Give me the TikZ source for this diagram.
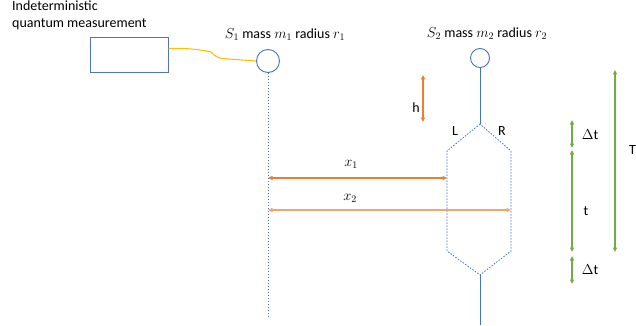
\documentclass[tikz,border=0pt]{standalone}
\usepackage{fontspec}
\setmainfont{Carlito}
\usetikzlibrary{arrows.meta}
\definecolor{lineblue}{HTML}{4472C4}
\definecolor{wireyellow}{HTML}{FFC000}
\definecolor{distorange}{HTML}{ED7D31}
\definecolor{distlight}{HTML}{F4A46E}
\definecolor{timegreen}{HTML}{70AD47}
\tikzset{
  ball/.style={draw=lineblue, circle, line width=0.9pt, inner sep=0pt},
  box/.style={draw=lineblue!80!gray, line width=1.0pt, minimum width=78pt, minimum height=35pt, inner sep=0pt},
  txt/.style={font=\fontsize{14}{17}\selectfont, inner sep=0pt, align=left},
  track/.style={draw=lineblue, line width=0.8pt},
  path/.style={draw=lineblue, line width=0.8pt, dash pattern=on 1.5pt off 1.5pt},
  dimarrow/.style={line width=1.2pt, arrows={Triangle[length=4.5pt,width=4pt]-Triangle[length=4.5pt,width=4pt]}}
}

\begin{document}
\begin{tikzpicture}[x=1pt, y=-1pt]
  \useasboundingbox (0,0) rectangle (636,326);

  % measurement apparatus and wire to S1
  \node[txt, anchor=north west] (meastext) at (12,1) {Indeterministic\\quantum measurement};
  \node[box] (meas) at (129,55.5) {};
  \node[ball, minimum size=23pt] (s1) at (268,61) {};
  \node[txt] (s1text) at (285,35) {$S_1$ mass $m_1$ radius $r_1$};
  \draw[wireyellow, line width=1.1pt] (meas.10) .. controls (190,48.5) .. (210,51.5)
    .. controls (213,53) and (214,57) .. (222,58.5) -- (s1.west);
  \coordinate (s1end) at (268,318);
  \draw[path] (s1.south) -- (s1end);

  % S2 and its two branches
  \node[ball, minimum size=19pt] (s2) at (480,58) {};
  \node[txt] (s2text) at (487,34) {$S_2$ mass $m_2$ radius $r_2$};
  \coordinate (split) at (480,124);
  \coordinate (upL) at (447,151);
  \coordinate (loL) at (447,251);
  \coordinate (join) at (480,275);
  \coordinate (loR) at (511,251);
  \coordinate (upR) at (511,151);
  \coordinate (s2end) at (480,325);
  \draw[track] (s2.south) -- (split);
  \draw[path] (split) -- (upL) -- (loL) -- (join) -- (loR) -- (upR) -- cycle;
  \draw[track] (join) -- (s2end);
  \node[txt] (lefttag) at (455,131) {L};
  \node[txt] (righttag) at (502,131) {R};

  % height
  \coordinate (htop) at (423,75);
  \coordinate (hbot) at (423,122);
  \draw[dimarrow, distorange] (htop) -- (hbot);
  \node[txt] (htext) at (416,108) {h};

  % distances
  \coordinate (x1a) at (268,178);
  \coordinate (x1b) at (447,178);
  \coordinate (x2a) at (268,210);
  \coordinate (x2b) at (511,210);
  \draw[dimarrow, distorange] (x1a) -- (x1b);
  \draw[dimarrow, distlight] (x2a) -- (x2b);
  \node[txt] (x1text) at (351,164) {$x_1$};
  \node[txt] (x2text) at (350,198) {$x_2$};

  % times
  \coordinate (ta) at (572,120);
  \coordinate (tb) at (572,148);
  \coordinate (tc) at (572,150);
  \coordinate (td) at (572,252);
  \coordinate (te) at (572,256);
  \coordinate (tf) at (572,284);
  \coordinate (bigtop) at (615,70);
  \coordinate (bigbot) at (615,252);
  \draw[dimarrow, timegreen] (ta) -- (tb);
  \draw[dimarrow, timegreen] (tc) -- (td);
  \draw[dimarrow, timegreen] (te) -- (tf);
  \draw[dimarrow, timegreen] (bigtop) -- (bigbot);
  \node[txt] (dt1) at (590,135) {$\Delta$t};
  \node[txt] (ttext) at (586,211) {t};
  \node[txt] (dt2) at (590,270) {$\Delta$t};
  \node[txt, anchor=west] (bigT) at (629,150) {T};
\end{tikzpicture}
\end{document}
